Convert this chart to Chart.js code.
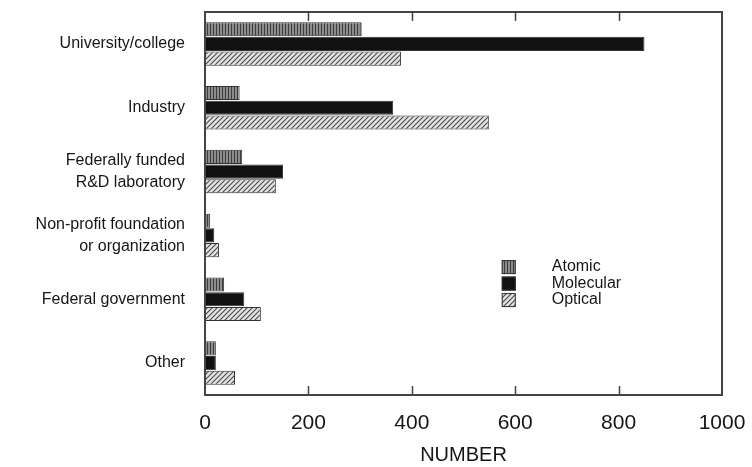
<!DOCTYPE html>
<html>
<head>
<meta charset="utf-8">
<script src="https://cdn.jsdelivr.net/npm/chart.js@4.4.1/dist/chart.umd.min.js"></script>
<style>
  html, body { margin: 0; padding: 0; background: #fff; }
  #wrap { width: 752px; height: 467px; }
</style>
</head>
<body>
<div id="wrap"><canvas id="sectorChart" width="752" height="467"></canvas></div>
<script>
// categories (multi-line labels) and values
const categories = [
    'University/college',
    'Industry',
    ['Federally funded', 'R&D laboratory'],
    ['Non-profit foundation', 'or organization'],
    'Federal government',
    'Other'
];
const seriesNames = ['Atomic', 'Molecular', 'Optical'];
const atomicValues = [303, 67, 72, 10, 37, 21];
const molecularValues = [850, 364, 151, 18, 76, 21];
const opticalValues = [379, 549, 137, 27, 108, 58];
const xTicks = [0, 200, 400, 600, 800, 1000];

const FONT = "'Liberation Sans', Arial, Helvetica, sans-serif";
const INK = '#161616';

// hatch patterns
function makePattern(kind) {
    const c = document.createElement('canvas');
    const p = c.getContext('2d');
    if (kind === 'vertical') {
        c.width = 3; c.height = 6;
        p.fillStyle = '#8c8c8c';
        p.fillRect(0, 0, 3, 6);
        p.fillStyle = '#3c3c3c';
        p.fillRect(0, 0, 1, 6);
    } else {
        c.width = 5; c.height = 5;
        p.fillStyle = '#e2e2e2';
        p.fillRect(0, 0, 5, 5);
        p.strokeStyle = '#4a4a4a';
        p.lineWidth = 1.1;
        p.beginPath();
        p.moveTo(-1, 6); p.lineTo(6, -1);
        p.moveTo(-1, 1); p.lineTo(1, -1);
        p.moveTo(4, 6); p.lineTo(6, 4);
        p.stroke();
    }
    return p.createPattern(c, 'repeat');
}

const fills = [makePattern('vertical'), '#111', makePattern('diagonal')];
const seriesValues = [atomicValues, molecularValues, opticalValues];

// frame around the plot area plus inward tick marks
const framePlugin = {
    id: 'frame',
    afterDraw(chart) {
        const ctx = chart.ctx;
        const a = chart.chartArea;
        const xs = chart.scales.x;
        ctx.save();
        ctx.strokeStyle = '#444';
        ctx.lineWidth = 2;
        ctx.strokeRect(a.left, a.top, a.right - a.left, a.bottom - a.top);
        ctx.lineWidth = 1.5;
        ctx.beginPath();
        xTicks.slice(1, -1).forEach(function(v) {
            const px = Math.round(xs.getPixelForValue(v)) + 0.5;
            ctx.moveTo(px, a.bottom); ctx.lineTo(px, a.bottom - 9);
            ctx.moveTo(px, a.top); ctx.lineTo(px, a.top + 9);
        });
        ctx.stroke();
        ctx.restore();
    }
};

// legend drawn inside the plot
const insideLegend = {
    id: 'insideLegend',
    afterDraw(chart) {
        const ctx = chart.ctx;
        const a = chart.chartArea;
        const x0 = a.left + (a.right - a.left) * 0.574;
        let y0 = a.top + (a.bottom - a.top) * 0.666;
        ctx.save();
        ctx.font = '16px ' + FONT;
        ctx.textBaseline = 'middle';
        chart.data.datasets.forEach(function(ds) {
            ctx.fillStyle = ds.backgroundColor;
            ctx.fillRect(x0, y0 - 7, 14, 14);
            ctx.strokeStyle = '#333';
            ctx.lineWidth = 1;
            ctx.strokeRect(x0 + 0.5, y0 - 6.5, 13, 13);
            ctx.fillStyle = INK;
            ctx.fillText(ds.label, x0 + 50, y0);
            y0 += 16.5;
        });
        ctx.restore();
    }
};

const ctx = document.getElementById('sectorChart').getContext('2d');
const chart = new Chart(ctx, {
    type: 'bar',
    data: {
        labels: categories,
        datasets: seriesNames.map(function(name, i) {
            return {
                label: name,
                data: seriesValues[i],
                backgroundColor: fills[i],
                borderColor: '#333',
                borderWidth: 1,
                categoryPercentage: 0.69,
                barPercentage: 0.96
            };
        })
    },
    options: {
        indexAxis: 'y',
        responsive: false,
        animation: false,
        layout: { padding: { top: 12, right: 30, left: 0, bottom: 0 } },
        plugins: {
            legend: { display: false },
            tooltip: { enabled: false }
        },
        scales: {
            x: {
                min: 0,
                max: 1000,
                afterBuildTicks: function(scale) {
                    scale.ticks = xTicks.map(function(v) { return { value: v }; });
                },
                grid: { display: false, drawTicks: false },
                border: { display: false },
                ticks: {
                    color: INK,
                    padding: 16,
                    font: { family: FONT, size: 21 },
                    maxRotation: 0,
                    callback: function(value) { return String(value); }
                },
                title: {
                    display: true,
                    text: 'NUMBER',
                    color: INK,
                    font: { family: FONT, size: 20 },
                    padding: { top: 0, bottom: 0 }
                },
                afterFit: function(scale) {
                    scale.height = 72;
                    scale.paddingLeft = 0;
                    scale.paddingRight = 0;
                }
            },
            y: {
                grid: { display: false, drawTicks: false },
                border: { display: false },
                ticks: {
                    color: INK,
                    padding: 20,
                    font: { family: FONT, size: 16, lineHeight: 1.35 }
                },
                afterFit: function(scale) {
                    scale.width = 205;
                    scale.paddingTop = 0;
                    scale.paddingBottom = 0;
                }
            }
        }
    },
    plugins: [framePlugin, insideLegend]
});
</script>
</body>
</html>
